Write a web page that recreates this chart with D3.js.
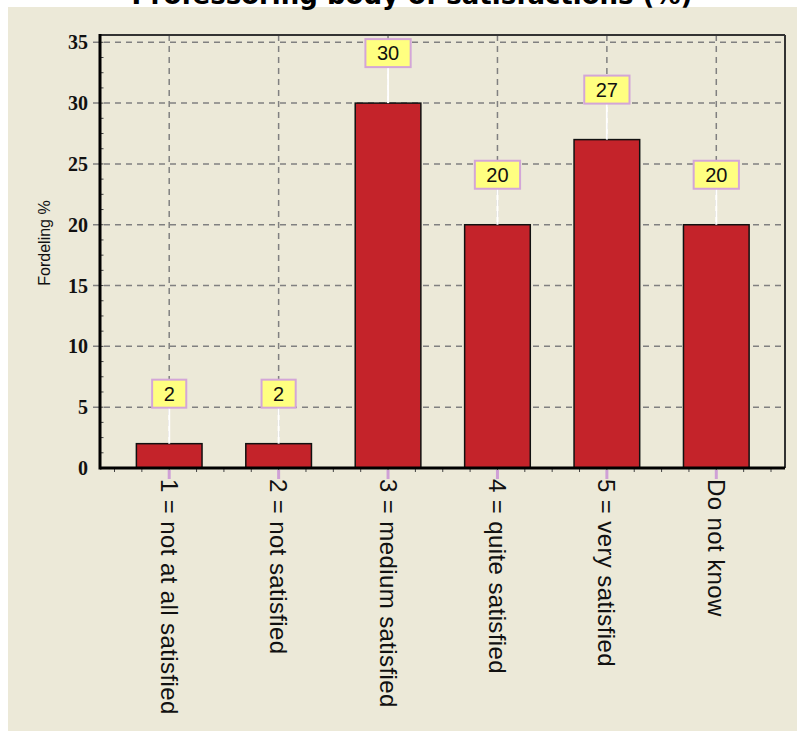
<!DOCTYPE html>
<html>
<head>
<meta charset="utf-8">
<script src="https://cdn.jsdelivr.net/npm/d3@7"></script>
<style>
  html, body { margin: 0; padding: 0; background: #ffffff; }
  svg { display: block; }
</style>
</head>
<body>
<script>
const categories = ["1 = not at all satisfied", "2 = not satisfied", "3 = medium satisfied", "4 = quite satisfied", "5 = very satisfied", "Do not know"];
const values = [2, 2, 30, 20, 27, 20];
const yTicks = [0, 5, 10, 15, 20, 25, 30, 35];
const titleText = "Professoring body of satisfactions (%)";
const yTitle = "Fordeling %";

const W = 797, H = 733;
const plot = { left: 100, right: 785, top: 35, bottom: 468 };

const svg = d3.select("body").append("svg").attr("width", W).attr("height", H);

// panel
svg.append("rect").attr("x", 8).attr("y", 7).attr("width", W - 8).attr("height", 724).attr("fill", "#ECE9D8");

const x = d3.scaleBand().domain(categories).range([114.5, 771]).paddingInner(0.4).paddingOuter(0.2);
const y = d3.scaleLinear().domain([0, 35.6]).range([plot.bottom, plot.top]);
const step = x.step();

// horizontal grid
svg.append("g").selectAll("line").data(yTicks.filter(d => d > 0)).join("line")
  .attr("x1", 93).attr("x2", plot.right).attr("y1", d => y(d)).attr("y2", d => y(d))
  .attr("stroke", "#808080").attr("stroke-width", 1.5).attr("stroke-dasharray", "6,5");

// vertical grid
svg.append("g").selectAll("line").data(categories).join("line")
  .attr("x1", d => x(d) + x.bandwidth() / 2).attr("x2", d => x(d) + x.bandwidth() / 2)
  .attr("y1", plot.top).attr("y2", plot.bottom)
  .attr("stroke", "#808080").attr("stroke-width", 1.5).attr("stroke-dasharray", "6,5");

// y minor ticks
const minor = d3.range(0, 35.01, 1.25);
svg.append("g").selectAll("line").data(minor).join("line")
  .attr("x1", plot.left).attr("x2", plot.left + 3.5).attr("y1", d => y(d)).attr("y2", d => y(d))
  .attr("stroke", "#444").attr("stroke-width", 1);

// x minor ticks
const xMinor = d3.range(0, categories.length * 4 + 1).map(i => 114.5 + i * step / 4);
svg.append("g").selectAll("line").data(xMinor).join("line")
  .attr("x1", d => d).attr("x2", d => d).attr("y1", plot.bottom).attr("y2", plot.bottom + 4)
  .attr("stroke", "#444").attr("stroke-width", 1);

// bars
svg.append("g").selectAll("rect").data(values).join("rect")
  .attr("x", (d, i) => x(categories[i]))
  .attr("y", d => y(d))
  .attr("width", x.bandwidth())
  .attr("height", d => y(0) - y(d))
  .attr("fill", "#C4232A").attr("stroke", "#111").attr("stroke-width", 1.5);

// frame
svg.append("line").attr("x1", plot.left).attr("x2", plot.right).attr("y1", plot.top).attr("y2", plot.top)
  .attr("stroke", "#333").attr("stroke-width", 2);
svg.append("line").attr("x1", plot.right).attr("x2", plot.right).attr("y1", plot.top).attr("y2", plot.bottom)
  .attr("stroke", "#333").attr("stroke-width", 2);
svg.append("line").attr("x1", plot.left).attr("x2", plot.left).attr("y1", plot.top - 1).attr("y2", plot.bottom + 1.5)
  .attr("stroke", "#000").attr("stroke-width", 3);
svg.append("line").attr("x1", plot.left).attr("x2", plot.right).attr("y1", plot.bottom).attr("y2", plot.bottom)
  .attr("stroke", "#000").attr("stroke-width", 3);

// category ticks (pink)
svg.append("g").selectAll("line").data(categories).join("line")
  .attr("x1", d => x(d) + x.bandwidth() / 2).attr("x2", d => x(d) + x.bandwidth() / 2)
  .attr("y1", plot.bottom + 2).attr("y2", plot.bottom + 11)
  .attr("stroke", "#CFA0D6").attr("stroke-width", 3);

// y axis tick labels
svg.append("g").selectAll("text").data(yTicks).join("text")
  .attr("x", 88).attr("y", d => y(d)).attr("dy", "0.35em")
  .attr("text-anchor", "end")
  .attr("font-family", "Liberation Serif, serif").attr("font-weight", "bold").attr("font-size", 20)
  .attr("fill", "#111").text(d => d);

// y title
svg.append("text").attr("transform", "translate(50,243) rotate(-90)")
  .attr("text-anchor", "middle")
  .attr("font-family", "Liberation Sans, Arial, sans-serif").attr("font-size", 16).attr("fill", "#111")
  .text(yTitle);

// x labels
svg.append("g").selectAll("text").data(categories).join("text")
  .attr("transform", d => `translate(${x(d) + x.bandwidth() / 2},${plot.bottom + 11}) rotate(90)`)
  .attr("dy", "0.35em")
  .attr("text-anchor", "start")
  .attr("letter-spacing", 0.4)
  .attr("font-family", "Liberation Sans, Arial, sans-serif").attr("font-size", 24).attr("fill", "#111")
  .text(d => d);

// value labels
const lab = svg.append("g").selectAll("g").data(values).join("g")
  .attr("transform", (d, i) => `translate(${x(categories[i]) + x.bandwidth() / 2},${y(d)})`);
lab.append("line").attr("x1", 0).attr("x2", 0).attr("y1", -36).attr("y2", 0)
  .attr("stroke", "#ffffff").attr("stroke-width", 2);
lab.each(function(d) {
  const g = d3.select(this);
  const t = g.append("text").attr("x", 0).attr("y", -50).attr("dy", "0.36em")
    .attr("text-anchor", "middle")
    .attr("font-family", "Liberation Sans, Arial, sans-serif").attr("font-size", 20).attr("fill", "#111")
    .text(d);
  const w = t.node().getComputedTextLength() + 23;
  g.insert("rect", "text").attr("x", -w / 2).attr("y", -64).attr("width", w).attr("height", 28)
    .attr("fill", "#FFFF80").attr("stroke", "#D3A6D8").attr("stroke-width", 2);
});

// title (cut off at top, as in the reference)
svg.append("text").attr("x", 412).attr("y", 4)
  .attr("text-anchor", "middle")
  .attr("font-family", "DejaVu Sans, Verdana, sans-serif").attr("font-weight", "bold").attr("font-size", 26)
  .attr("fill", "#000").text(titleText);
</script>
</body>
</html>
